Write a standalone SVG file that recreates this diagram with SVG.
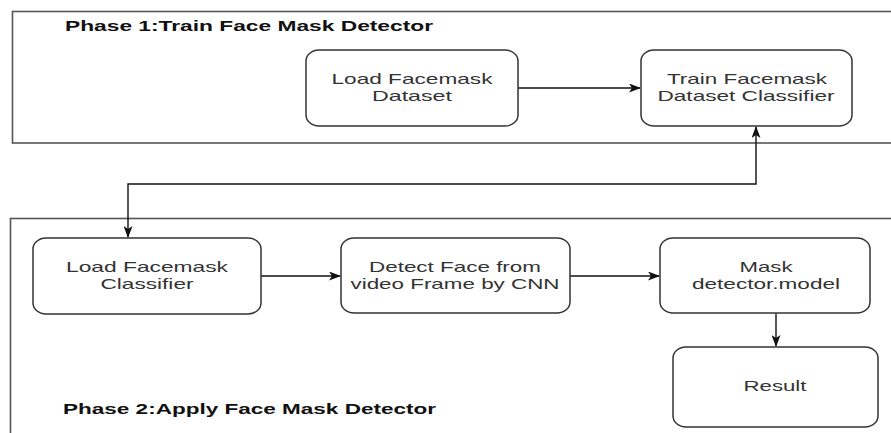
<svg xmlns="http://www.w3.org/2000/svg" width="891" height="433" viewBox="0 0 891 433">
<defs>
<style>
.phase{fill:#fff;stroke:#555;stroke-width:1.6}
.node{fill:#fff;stroke:#333;stroke-width:1.5}
.nt{font-family:"Liberation Sans",Arial,sans-serif;font-size:14.5px;fill:#333;text-anchor:middle}
.pt{font-family:"Liberation Sans",Arial,sans-serif;font-size:15px;font-weight:bold;fill:#111}
.edge{fill:none;stroke:#111;stroke-width:1.4}
</style>
<marker id="arr" viewBox="0 0 12 9" markerWidth="12" markerHeight="9" refX="11" refY="4.5" orient="auto-start-reverse" markerUnits="userSpaceOnUse">
<path d="M0,0 L12,4.5 L0,9 L3,4.5 Z" fill="#111"/>
</marker>
</defs>
<rect width="891" height="433" fill="#fff"/>
<g id="phase1">
<rect class="phase" x="12.5" y="11.5" width="900" height="131.5"/>
<text class="pt" x="65" y="31" textLength="368" lengthAdjust="spacingAndGlyphs">Phase 1:Train Face Mask Detector</text>
</g>
<g id="phase2">
<rect class="phase" x="10.5" y="218.5" width="900" height="300"/>
<text class="pt" x="63" y="414" textLength="373" lengthAdjust="spacingAndGlyphs">Phase 2:Apply Face Mask Detector</text>
</g>
<g id="connectors">
<path class="edge" d="M518,88 H640" marker-end="url(#arr)"/>
<path class="edge" d="M261,276 H340" marker-end="url(#arr)"/>
<path class="edge" d="M570,276 H659" marker-end="url(#arr)"/>
<path class="edge" d="M776,313.5 V346" marker-end="url(#arr)"/>
<path class="edge" d="M128,237 V184 H756 V127" marker-start="url(#arr)" marker-end="url(#arr)"/>
</g>
<g id="load-dataset">
<rect class="node" x="306" y="50" width="212" height="76" rx="13" ry="11"/>
<text class="nt" x="412" y="84" textLength="161" lengthAdjust="spacingAndGlyphs">Load Facemask</text>
<text class="nt" x="412" y="101" textLength="80" lengthAdjust="spacingAndGlyphs">Dataset</text>
</g>
<g id="train-classifier">
<rect class="node" x="641" y="50" width="211" height="76" rx="13" ry="11"/>
<text class="nt" x="747" y="84" textLength="160" lengthAdjust="spacingAndGlyphs">Train Facemask</text>
<text class="nt" x="746" y="101" textLength="177" lengthAdjust="spacingAndGlyphs">Dataset Classifier</text>
</g>
<g id="load-classifier">
<rect class="node" x="33" y="238" width="228" height="76" rx="13" ry="11"/>
<text class="nt" x="147" y="272" textLength="162" lengthAdjust="spacingAndGlyphs">Load Facemask</text>
<text class="nt" x="147" y="289" textLength="93" lengthAdjust="spacingAndGlyphs">Classifier</text>
</g>
<g id="detect-face">
<rect class="node" x="341" y="238" width="229" height="75" rx="13" ry="11"/>
<text class="nt" x="455" y="272" textLength="172" lengthAdjust="spacingAndGlyphs">Detect Face from</text>
<text class="nt" x="455" y="289" textLength="209" lengthAdjust="spacingAndGlyphs">video Frame by CNN</text>
</g>
<g id="mask-model">
<rect class="node" x="660" y="238" width="210" height="75" rx="13" ry="11"/>
<text class="nt" x="766" y="272" textLength="53" lengthAdjust="spacingAndGlyphs">Mask</text>
<text class="nt" x="766" y="289" textLength="148" lengthAdjust="spacingAndGlyphs">detector.model</text>
</g>
<g id="result">
<rect class="node" x="673" y="347" width="205" height="80" rx="13" ry="11"/>
<text class="nt" x="775" y="391" textLength="63" lengthAdjust="spacingAndGlyphs">Result</text>
</g>
</svg>
